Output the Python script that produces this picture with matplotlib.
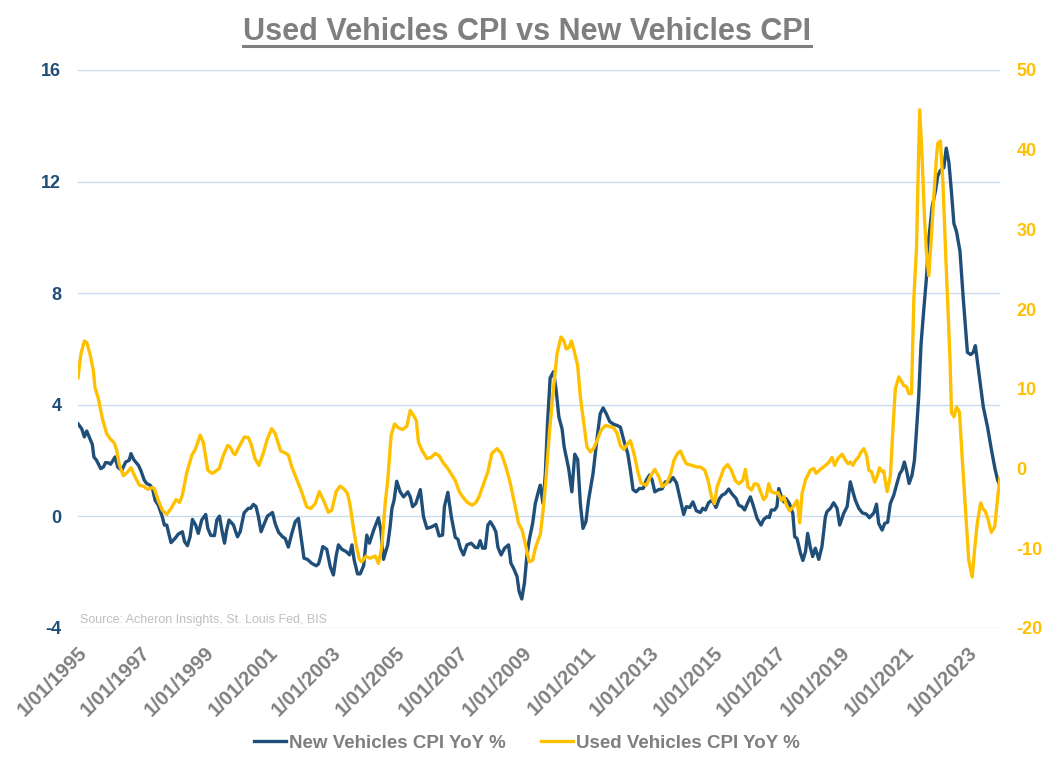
import matplotlib
matplotlib.use("Agg")
import matplotlib.pyplot as plt
from matplotlib.transforms import ScaledTranslation
from matplotlib.lines import Line2D

plt.rcParams["axes.unicode_minus"] = False

# ---------------- data (month index since Jan 1995, YoY %) ----------------
new_month = [0, 1.4, 2.4, 3.3, 4.5, 5.4, 6.0, 7.0, 8.6, 9.6, 10.4, 11.5, 12.3, 14.0, 15.0, 16.5, 18.0, 19.3, 20.0, 21.0,
             22.8, 23.7, 25.0, 25.9, 27.2, 28.1, 29.1, 30.3, 31.8, 32.6, 33.5, 35.1, 36.6, 37.9, 39.4, 40.2, 41.3, 42.3,
             43.2, 44.4, 45.4, 46.7, 48.2, 49.0, 50.1, 51.5, 52.4, 53.4, 54.3, 55.3, 56.1, 57.0, 58.7, 59.3,
             60.2, 61.2, 62.7, 64.3, 65.2, 66.2, 67.2, 68.1, 69.1, 70.1, 71.5, 73.4, 74.4, 75.7, 77.2, 78.2, 79.4, 80.7,
             82.0, 83.2, 84.5, 85.3, 86.6, 88.2, 89.9, 90.8, 91.4, 92.4, 93.9, 95.2, 96.4, 97.4, 98.3, 99.6, 101.2,
             102.5, 103.4, 104.2, 105.5, 106.5, 107.8, 109.0, 110.0, 111.6, 113.4, 114.3, 115.3,
             116.9, 117.8, 118.5, 119.3, 120.3, 121.6, 122.9, 124.5, 125.4, 126.3, 127.5, 129.2, 130.4, 131.7, 133.6,
             135.1, 136.3, 137.6, 138.3, 139.6, 140.9, 142.4, 143.4, 144.3, 145.5, 146.8, 148.4, 149.9, 150.9, 151.8,
             152.7, 153.7, 154.7, 155.6, 156.8, 157.7, 158.5, 159.7, 161.0, 162.5, 163.4, 164.4, 165.7, 166.5, 167.5,
             168.5, 169.4, 170.3, 171.6, 172.6, 173.9,
             174.5, 175.5, 176.4, 177.2, 178.2, 179.5, 180.5, 181.5, 182.7, 183.5, 185.2, 186.4, 187.5, 188.6, 189.6,
             190.6, 191.7, 192.7, 194.4, 195.9, 197.1, 198.2, 199.4, 200.7, 202.2, 203.5, 204.7, 206.0, 207.5, 208.5,
             209.5, 210.6, 211.9, 213.3, 214.5, 215.7, 216.7, 217.7, 219.2, 220.5, 221.7, 223.3, 224.6, 225.9, 227.1,
             228.6, 229.6, 230.9, 232.1, 233.4,
             234.9, 235.8, 236.8, 238.0, 239.3, 240.8, 242.1, 243.1, 244.3, 245.6, 246.9, 248.4, 249.4, 250.6, 251.6,
             252.9, 253.8, 255.0, 256.3, 257.8, 258.8, 260.1, 260.9, 261.7, 262.9, 263.8, 264.5, 265.5, 266.4, 267.2,
             268.5, 269.8, 270.5, 271.4, 272.7, 273.6, 274.6, 275.4, 276.4, 277.3, 278.3, 279.6, 280.8, 282.1, 282.7,
             284.0, 285.2, 286.5, 287.5, 289.0, 290.3,
             291.5, 292.5, 293.4, 294.7, 296.0, 297.6, 298.7, 300.4, 301.4, 302.2, 303.5, 304.5, 305.6, 306.6, 307.9,
             309.1, 310.2, 311.0, 311.9, 312.7, 313.7, 314.8, 315.7, 316.4, 317.3, 318.2, 319.3, 320.2, 321.1, 322.4,
             323.7, 324.5, 325.5, 326.8, 327.7, 328.7, 329.7, 330.6, 331.6, 332.9, 334.1, 335.7, 336.9, 337.9, 338.7,
             340.1, 341.7, 343.3, 344.8, 346.1, 347.1, 348.1]
new_yoy = [3.32, 3.14, 2.85, 3.06, 2.79, 2.58, 2.13, 2.01, 1.71, 1.77, 1.93, 1.92, 1.87, 2.13, 1.77, 1.65, 1.95, 2.01, 2.25, 2.04,
           1.83, 1.65, 1.30, 1.18, 1.12, 1.0, 0.58, 0.40, -0.01, -0.31, -0.31, -0.94, -0.79, -0.63, -0.55, -0.90, -1.05, -0.73,
           -0.11, -0.31, -0.61, -0.13, 0.07, -0.43, -0.68, -0.69, -0.13, 0.01, -0.49, -0.96, -0.49, -0.13, -0.31, -0.49,
           -0.73, -0.55, 0.13, 0.29, 0.29, 0.43, 0.35, -0.01, -0.55, -0.31, 0.01, 0.14, -0.25, -0.57, -0.73, -0.79, -1.1, -0.61,
           -0.19, -0.07, -0.96, -1.5, -1.54, -1.68, -1.77, -1.7, -1.5, -1.08, -1.18, -1.8, -2.1, -1.44, -1.02, -1.18, -1.26,
           -1.38, -1.02, -1.54, -2.06, -2.06, -1.77, -0.67, -0.96, -0.49, -0.05, -0.49, -1.54,
           -1.02, -0.37, 0.29, 0.58, 1.26, 0.88, 0.70, 0.88, 0.70, 0.35, 0.46, 0.96, -0.01, -0.43, -0.37,
           -0.29, -0.70, -0.67, 0.35, 0.86, -0.01, -0.75, -0.82, -1.14, -1.38, -1.02, -0.96, -1.11, -1.12, -0.87,
           -1.14, -1.14, -0.31, -0.19, -0.37, -0.55, -1.11, -1.38, -1.14, -1.02, -1.68, -1.86, -2.15, -2.69, -2.96,
           -2.39, -1.44, -0.85, -0.25, 0.46, 0.94,
           1.12, 0.46, 1.54, 3.32, 4.96, 5.19, 4.5, 3.56, 3.14, 2.49, 1.71, 0.88, 2.23, 2.04, 0.46,
           -0.43, -0.19, 0.58, 1.54, 2.79, 3.68, 3.89, 3.68, 3.40, 3.30, 3.26, 3.20, 2.73, 2.25, 1.65,
           0.96, 0.88, 1.0, 1.0, 1.30, 1.48, 1.30, 0.88, 0.96, 0.99, 1.24, 1.24, 1.39, 1.20, 0.70,
           0.07, 0.35, 0.32, 0.52, 0.20,
           0.14, 0.29, 0.23, 0.49, 0.58, 0.32, 0.64, 0.76, 0.82, 0.98, 0.80, 0.64, 0.40, 0.35, 0.23,
           0.52, 0.70, 0.35, -0.07, -0.31, -0.11, -0.01, -0.04, 0.23, 0.23, 0.35, 1.0, 0.70, 0.52, 0.64,
           0.46, 0.11, -0.73, -0.79, -1.32, -1.58, -1.26, -0.61, -1.11, -1.44, -1.14, -1.54, -1.08, -0.01, 0.17,
           0.29, 0.49, 0.29, -0.31, 0.11, 0.35,
           1.24, 0.88, 0.58, 0.29, 0.13, 0.08, -0.05, 0.13, 0.44, -0.25, -0.49, -0.25, -0.21, 0.46, 0.76,
           1.18, 1.54, 1.65, 1.95, 1.65, 1.18, 1.48, 2.01, 2.96, 4.27, 6.18, 7.49, 8.5, 9.93, 11.1,
           11.7, 12.2, 12.4, 12.5, 13.2, 12.7, 11.6, 10.5, 10.2, 9.5, 7.85, 5.88, 5.8, 5.88, 6.12,
           5.1, 3.92, 3.2, 2.37, 1.71, 1.30, 1.06]

used_month = [0, 1.1, 2.4, 3.3, 4.5, 5.8, 6.4, 7.7, 9.2, 10.8, 12.1, 13.7, 14.6, 15.5, 17.1, 18.8, 20.0, 21.5, 23.2, 24.7,
              26.3, 27.8, 28.8, 30.3, 31.8, 33.5, 35.1, 37.0, 38.3, 39.4, 41.0, 43.0, 44.4, 46.1, 47.3, 49.0, 50.5, 51.7,
              53.3, 54.9, 56.5, 57.4, 58.7, 59.3,
              61.2, 62.8, 64.3, 65.3, 66.8, 68.3, 69.9, 71.5, 73.1, 74.4, 76.5, 78.2, 79.4, 80.7, 82.6, 84.5, 86.3, 87.9,
              89.5, 91.1, 92.7, 94.5, 95.8, 97.4, 98.9, 100.2, 101.7, 102.7, 103.7, 105.0, 106.2, 107.1, 108.7, 110.3,
              112.2, 113.4, 114.7, 115.9,
              116.9, 118.2, 119.5, 121.0, 122.5, 124.1, 125.4, 126.6, 127.7, 128.5, 129.8, 131.7, 133.3, 134.8, 136.3,
              137.9, 139.6, 141.1, 142.4, 143.9, 145.1, 146.8, 148.7, 150.2, 151.4, 153.1, 154.7, 156.2, 158.1, 159.8,
              161.5, 163.2, 164.8, 166.3, 167.6, 168.8, 170.3, 171.6, 172.6, 173.9,
              174.5, 175.7, 176.7, 178.0, 179.5, 180.8, 182.3, 183.3, 184.3, 185.4, 186.2, 187.1, 188.6, 189.6, 190.8,
              192.1, 193.4, 194.6, 195.9, 197.4, 199.0, 200.5, 202.2, 203.5, 204.7, 206.0, 207.2, 208.5, 210.0, 211.3,
              212.5, 214.5, 216.0, 217.7, 219.2, 220.5, 222.1, 223.6, 224.9, 226.1, 227.4, 228.6, 229.6, 231.7, 233.6,
              234.9, 236.6, 237.8, 239.1, 240.2, 241.2, 242.4, 243.7, 245.2, 246.6, 248.1, 249.4, 250.9, 251.9, 252.9,
              254.2, 255.3, 256.6, 257.6, 258.8, 259.8, 260.7, 261.7, 263.2, 264.2, 265.5, 266.4, 267.4, 268.6, 269.9,
              271.4, 272.4, 273.3, 274.6, 276.4, 277.7, 278.6, 280.2, 281.8, 283.3, 284.6, 285.6, 286.8, 288.4, 289.6,
              290.7,
              291.5, 292.5, 293.4, 294.7, 295.6, 296.6, 297.6, 298.5, 299.5, 300.7, 301.6, 302.5, 303.5, 304.1, 305.4,
              306.6, 307.7, 308.5, 309.8, 310.7, 311.7, 312.7, 313.6, 314.6, 315.5, 316.5, 317.1, 317.7, 318.6, 319.5,
              320.2, 321.1, 322.0, 323.0, 324.0, 324.5, 325.5, 326.5, 327.4, 328.3, 329.1, 329.7, 330.6, 331.6, 332.7,
              333.7, 335.0, 336.2, 337.5, 338.4, 339.4, 340.7, 341.5, 342.5, 343.6, 344.7, 346.0, 347.0, 347.9]
used_yoy = [11.4, 14.4, 16.0, 15.8, 14.4, 12.3, 10.2, 8.75, 6.25, 4.4, 3.75, 3.2, 2.3, 0.6, -0.9, -0.4, 0.1, -1.0, -2.1, -2.2,
            -2.6, -2.4, -2.5, -4.0, -5.2, -5.75, -5.0, -3.9, -4.25, -3.3, -0.6, 1.7, 2.5, 4.2, 3.3, -0.2, -0.6, -0.4,
            0.0, 1.7, 2.9, 2.7, 1.9, 1.75,
            3.0, 3.96, 3.9, 3.1, 1.25, 0.4, 1.9, 3.75, 5.0, 4.4, 2.2, 1.96, 1.7, 0.2, -1.4, -3.0, -4.8, -5.0,
            -4.4, -2.9, -4.0, -5.5, -5.2, -2.9, -2.2, -2.5, -3.1, -4.6, -6.9, -9.6, -11.4, -11.7, -11.0, -11.25,
            -10.96, -11.9, -9.8, -4.5,
            -1.5, 4.2, 5.6, 5.1, 4.9, 5.3, 7.3, 6.7, 6.0, 3.3, 2.3, 1.25, 1.4, 1.9, 1.6,
            0.7, 0.0, -0.8, -1.5, -2.9, -3.5, -4.2, -4.6, -4.25, -3.5, -1.9, -0.4, 1.9, 2.5, 1.9,
            0.2, -1.9, -4.4, -6.9, -7.7, -9.4, -11.7, -11.5, -10.0, -8.75,
            -8.3, -4.8, -1.0, 4.8, 10.2, 14.4, 16.5, 16.1, 15.0, 15.2, 16.0, 15.0, 12.9, 9.0, 6.0,
            2.7, 2.1, 2.5, 3.5, 4.8, 5.4, 5.3, 5.1, 4.4, 2.9, 2.4, 3.0, 3.5, 1.7, -0.4,
            -1.8, -2.1, -1.0, -0.1, -1.0, -2.25, -1.9, -0.8, 1.0, 1.8, 2.2, 1.25, 0.6, 0.4, 0.2,
            0.2, -0.2, -1.5, -3.5, -4.4, -2.3, -1.25, 0.0, 0.5, -0.2, -1.5, -1.9, -1.5, -0.1, -2.3,
            -2.7, -1.9, -2.0, -2.9, -3.9, -3.5, -1.9, -2.9, -3.1, -3.0, -4.0, -3.5, -4.6, -5.3, -4.8,
            -4.0, -6.8, -3.1, -1.4, -0.2, 0.0, -0.6, -0.1, 0.3, 0.75, 1.4, 0.4, 1.25, 1.8, 1.1,
            0.6,
            0.83, 0.4, 1.0, 1.5, 2.1, 2.5, 1.7, -0.2, -0.4, -1.7, -1.0, 0.1, -0.4, -0.3, -2.9,
            -1.0, 5.6, 10.0, 11.5, 11.0, 10.4, 10.3, 9.4, 9.4, 21.5, 27.7, 36.9, 45.0, 39.0, 31.5,
            27.3, 24.2, 28.5, 34.0, 39.0, 40.8, 41.1, 35.6, 27.7, 20.6, 14.0, 7.0, 6.5, 7.7, 7.1,
            1.5, -5.2, -11.5, -13.6, -10.2, -6.9, -4.3, -5.0, -5.4, -6.5, -8.0, -7.3, -4.0, -1.25]

tick_years = list(range(1995, 2024, 2))
tick_labels = ["1/01/%d" % y for y in tick_years]
left_ticks = [-4, 0, 4, 8, 12, 16]
right_ticks = [-20, -10, 0, 10, 20, 30, 40, 50]

title = "Used Vehicles CPI vs New Vehicles CPI"
source = "Source: Acheron Insights, St. Louis Fed, BIS"
new_label = "New Vehicles CPI YoY %"
used_label = "Used Vehicles CPI YoY %"

# ---------------- style ----------------
NAVY = "#1f4e79"
GOLD = "#ffc000"
GRAY = "#7f7f7f"
GRID = "#c8dcef"
ARIAL = ["Liberation Sans", "DejaVu Sans"]

W, H = 1055, 768
fig = plt.figure(figsize=(W / 100, H / 100), dpi=100)
ax = fig.add_axes([78 / W, 1 - 628 / H, 922 / W, 558 / H])
ax2 = ax.twinx()

ax.plot(new_month, new_yoy, color=NAVY, lw=2.4, solid_joinstyle="round", zorder=3)
ax2.plot(used_month, used_yoy, color=GOLD, lw=2.4, solid_joinstyle="round", zorder=3)

ax.set_xlim(0, 348)
ax.set_ylim(-4, 16)
ax2.set_ylim(-20, 50)
ax.set_yticks(left_ticks)
ax2.set_yticks(right_ticks)
ax.set_xticks([(y - 1995) * 12 for y in tick_years])
ax.set_xticklabels(tick_labels)

ax.grid(axis="y", color=GRID, lw=1.0, zorder=0)
ax.grid(axis="x", visible=False)
for a in (ax, ax2):
    for sp in a.spines.values():
        sp.set_visible(False)
    a.tick_params(length=0)

ax.tick_params(axis="y", pad=12, labelcolor=NAVY)
ax2.tick_params(axis="y", pad=12, labelcolor=GOLD)
for lbl in ax.get_yticklabels() + ax2.get_yticklabels():
    lbl.set_fontfamily(ARIAL)
    lbl.set_fontweight("bold")
    lbl.set_fontsize(13)

off = ScaledTranslation(6 / 100, -17 / 100, fig.dpi_scale_trans)
for lbl in ax.get_xticklabels():
    lbl.set_fontfamily(ARIAL)
    lbl.set_fontweight("bold")
    lbl.set_fontsize(14.5)
    lbl.set_color(GRAY)
    lbl.set_rotation(45)
    lbl.set_ha("right")
    lbl.set_va("center")
    lbl.set_rotation_mode("anchor")
    lbl.set_transform(lbl.get_transform() + off)

# title with underline
t = fig.text(527 / W, 1 - 32 / H, title, ha="center", va="center", fontsize=22,
             fontweight="bold", color=GRAY, family=ARIAL)
fig.canvas.draw()
bb = t.get_window_extent()
fig.add_artist(Line2D([bb.x0 / W, bb.x1 / W], [1 - 46 / H, 1 - 46 / H], color=GRAY, lw=2.2))

fig.text(80 / W, 1 - 620 / H, source, ha="left", va="center", fontsize=9, color="#bfbfbf", family=ARIAL)

handles = [Line2D([], [], color=NAVY, lw=2.4), Line2D([], [], color=GOLD, lw=2.4)]
leg = fig.legend(handles, [new_label, used_label], loc="center", bbox_to_anchor=(527 / W, 1 - 743 / H),
                 ncol=2, frameon=False, handlelength=1.7, handletextpad=0.15, columnspacing=1.9,
                 prop={"family": ARIAL, "weight": "bold", "size": 13.5})
for txt in leg.get_texts():
    txt.set_color(GRAY)

fig.savefig("out.png", dpi=100)
